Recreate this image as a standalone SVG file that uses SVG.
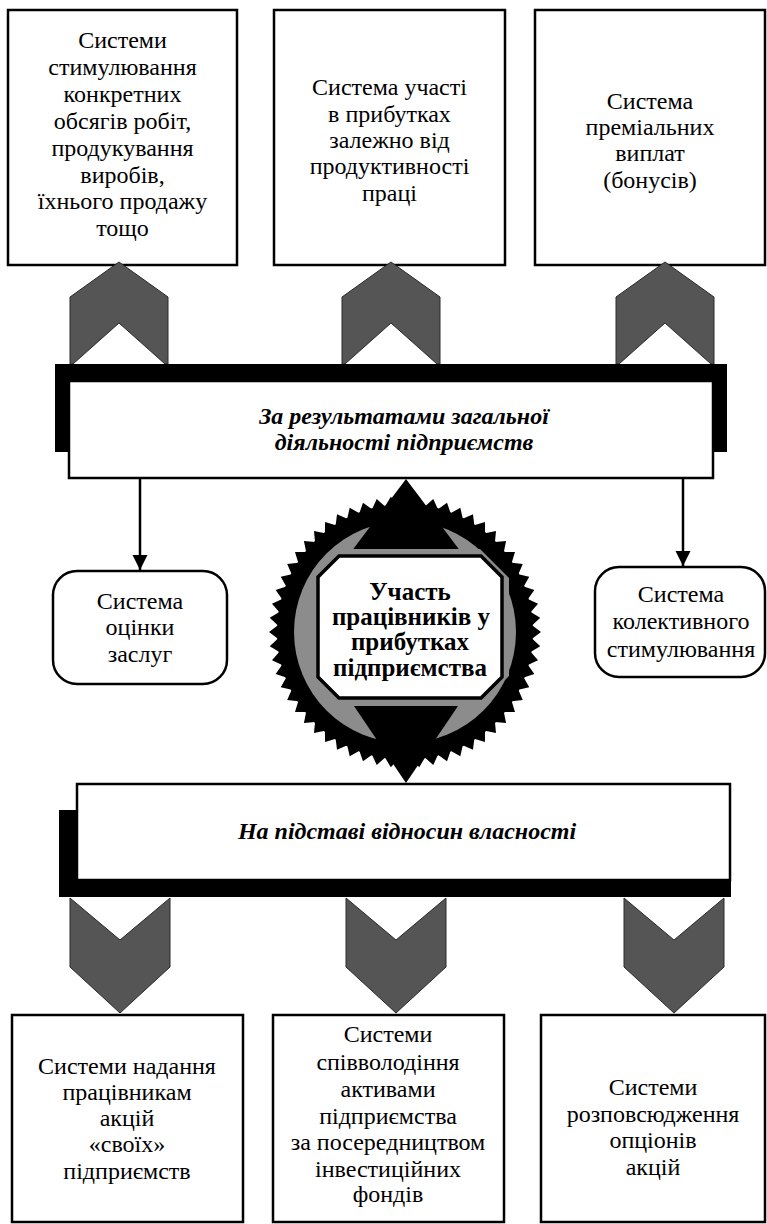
<svg xmlns="http://www.w3.org/2000/svg" xmlns:xlink="http://www.w3.org/1999/xlink" width="767" height="1224" viewBox="0 0 767 1224">
  <style>
    .box { fill: #fff; stroke: #000; stroke-width: 2.5; }
    .oval { fill: #fff; stroke: #000; stroke-width: 2.5; }
    .shadow { fill: #000; }
    .chev { fill: #555; stroke: #2a2a2a; stroke-width: 1; }
    .t { font-family: "Liberation Serif", "Times New Roman", serif; font-size: 24px; fill: #000; text-anchor: middle; }
    .bi { font-family: "Liberation Serif", "Times New Roman", serif; font-size: 24px; font-weight: bold; font-style: italic; fill: #000; text-anchor: middle; }
    .b { font-family: "Liberation Serif", "Times New Roman", serif; font-size: 25px; font-weight: bold; fill: #000; text-anchor: middle; }
    .line { stroke: #000; stroke-width: 2.5; fill: none; }
  </style>
  <defs>
    <marker id="arrow" viewBox="0 0 10 10" refX="10" refY="5" markerWidth="6" markerHeight="7" markerUnits="strokeWidth" orient="auto">
      <path d="M0,0 L10,5 L0,10 z" fill="#000"/>
    </marker>
    <!-- one saw tooth of the gear rim, pointing up from centre (405,632) -->
    <polygon id="tooth" points="398.3,505 405,496 411.7,505" fill="#000"/>
    <g id="teeth10">
      <use xlink:href="#tooth"/>
      <use xlink:href="#tooth" transform="rotate(6 405 632)"/>
      <use xlink:href="#tooth" transform="rotate(12 405 632)"/>
      <use xlink:href="#tooth" transform="rotate(18 405 632)"/>
      <use xlink:href="#tooth" transform="rotate(24 405 632)"/>
      <use xlink:href="#tooth" transform="rotate(30 405 632)"/>
      <use xlink:href="#tooth" transform="rotate(36 405 632)"/>
      <use xlink:href="#tooth" transform="rotate(42 405 632)"/>
      <use xlink:href="#tooth" transform="rotate(48 405 632)"/>
      <use xlink:href="#tooth" transform="rotate(54 405 632)"/>
    </g>
  </defs>

  <!-- top row -->
  <g id="node-top-1">
    <rect class="box" x="8" y="10" width="229" height="255"/>
    <text class="t" x="122.5" y="48">Системи</text>
    <text class="t" x="122.5" y="75">стимулювання</text>
    <text class="t" x="122.5" y="102">конкретних</text>
    <text class="t" x="122.5" y="129">обсягів робіт,</text>
    <text class="t" x="122.5" y="156">продукування</text>
    <text class="t" x="122.5" y="183">виробів,</text>
    <text class="t" x="122.5" y="209">їхнього продажу</text>
    <text class="t" x="122.5" y="236">тощо</text>
  </g>
  <g id="node-top-2">
    <rect class="box" x="274" y="10" width="231" height="255"/>
    <text class="t" x="389.5" y="95">Система участі</text>
    <text class="t" x="389.5" y="122">в прибутках</text>
    <text class="t" x="389.5" y="148">залежно від</text>
    <text class="t" x="389.5" y="174">продуктивності</text>
    <text class="t" x="389.5" y="201">праці</text>
  </g>
  <g id="node-top-3">
    <rect class="box" x="535" y="10" width="230" height="255"/>
    <text class="t" x="650" y="109">Система</text>
    <text class="t" x="650" y="135">преміальних</text>
    <text class="t" x="650" y="161">виплат</text>
    <text class="t" x="650" y="188">(бонусів)</text>
  </g>

  <!-- connectors: chevrons and arrows -->
  <g id="connectors">
    <polygon class="chev" points="70,364 70,297 119,262 168,297 168,364 165,364 119,323 73,364"/>
    <polygon class="chev" points="342,364 342,297 391,262 440,297 440,364 437,364 391,323 345,364"/>
    <polygon class="chev" points="616,364 616,297 665,262 714,297 714,364 711,364 665,323 619,364"/>
    <line class="line" x1="140" y1="478" x2="140" y2="570" marker-end="url(#arrow)"/>
    <line class="line" x1="683" y1="478" x2="683" y2="566" marker-end="url(#arrow)"/>
    <polygon class="chev" points="70,898 120,940 170,898 170,967 120,1013 70,967"/>
    <polygon class="chev" points="346,898 396,940 446,898 446,967 396,1013 346,967"/>
    <polygon class="chev" points="624,898 674,940 724,898 724,967 674,1013 624,967"/>
  </g>

  <!-- bar: results of the whole enterprise -->
  <g id="node-results">
    <rect class="shadow" x="55" y="364" width="672" height="88"/>
    <rect class="box" x="69" y="381" width="644" height="97"/>
    <text class="bi" x="404" y="424">За результатами загальної</text>
    <text class="bi" x="404" y="450">діяльності підприємств</text>
  </g>

  <g id="node-merit">
    <rect class="oval" x="53" y="571" width="174" height="113" rx="24"/>
    <text class="t" x="140" y="609">Система</text>
    <text class="t" x="140" y="635">оцінки</text>
    <text class="t" x="140" y="662">заслуг</text>
  </g>
  <g id="node-collective">
    <rect class="oval" x="595" y="567" width="170" height="110" rx="24"/>
    <text class="t" x="681" y="602">Система</text>
    <text class="t" x="681" y="629">колективного</text>
    <text class="t" x="681" y="657">стимулювання</text>
  </g>

  <!-- central gear -->
  <g id="node-center">
    <circle cx="405" cy="632" r="128" fill="#000"/>
    <use xlink:href="#teeth10"/>
    <use xlink:href="#teeth10" transform="rotate(60 405 632)"/>
    <use xlink:href="#teeth10" transform="rotate(120 405 632)"/>
    <use xlink:href="#teeth10" transform="rotate(180 405 632)"/>
    <use xlink:href="#teeth10" transform="rotate(240 405 632)"/>
    <use xlink:href="#teeth10" transform="rotate(300 405 632)"/>
    <circle cx="405" cy="632" r="111" fill="#8c8c8c"/>
    <polygon points="406,479 351,552 461,552" fill="#000"/>
    <polygon points="406,783 354,706 458,706" fill="#000"/>
    <polygon points="340,549 480,549 509,578 509,676 480,705 340,705 311,676 311,578" fill="#8c8c8c"/>
    <polygon points="339,556 481,556 502,577 502,677 481,698 339,698 318,677 318,577" fill="#fff" stroke="#000" stroke-width="3.5"/>
    <text class="b" x="410" y="600">Участь</text>
    <text class="b" x="411" y="625">працівників у</text>
    <text class="b" x="410" y="650">прибутках</text>
    <text class="b" x="410" y="676">підприємства</text>
  </g>

  <!-- bar: ownership relations -->
  <g id="node-ownership">
    <rect class="shadow" x="59" y="810" width="672" height="87"/>
    <rect class="box" x="77" y="784" width="653" height="96"/>
    <text class="bi" x="407" y="839">На підставі відносин власності</text>
  </g>

  <!-- bottom row -->
  <g id="node-bottom-1">
    <rect class="box" x="12" y="1015" width="231" height="207"/>
    <text class="t" x="127" y="1074">Системи надання</text>
    <text class="t" x="127" y="1100">працівникам</text>
    <text class="t" x="127" y="1126">акцій</text>
    <text class="t" x="127" y="1152">«своїх»</text>
    <text class="t" x="127" y="1179">підприємств</text>
  </g>
  <g id="node-bottom-2">
    <rect class="box" x="273" y="1015" width="231" height="207"/>
    <text class="t" x="388" y="1042">Системи</text>
    <text class="t" x="388" y="1070">співволодіння</text>
    <text class="t" x="388" y="1097">активами</text>
    <text class="t" x="388" y="1124">підприємства</text>
    <text class="t" x="388" y="1150">за посередництвом</text>
    <text class="t" x="388" y="1177">інвестиційних</text>
    <text class="t" x="388" y="1202">фондів</text>
  </g>
  <g id="node-bottom-3">
    <rect class="box" x="541" y="1015" width="224" height="207"/>
    <text class="t" x="653" y="1095">Системи</text>
    <text class="t" x="653" y="1122">розповсюдження</text>
    <text class="t" x="653" y="1148">опціонів</text>
    <text class="t" x="653" y="1175">акцій</text>
  </g>
</svg>
